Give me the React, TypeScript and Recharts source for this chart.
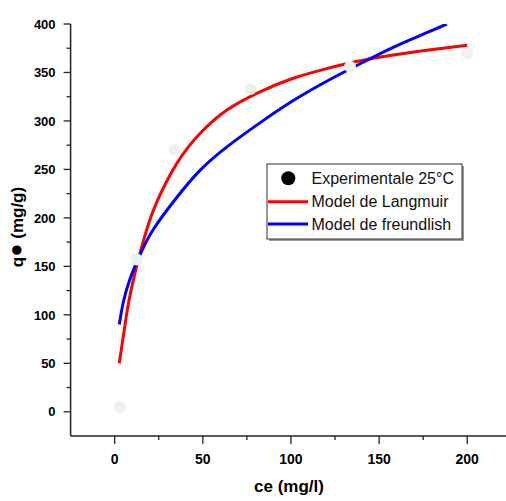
import { ComposedChart, Line, Scatter, XAxis, YAxis } from "recharts"

const ceExp = [3, 12.5, 34, 77, 133.5, 200]
const qeExp = [5, 157, 270, 333, 356, 370]

const langmuirCe = [2.6, 6.8, 9.6, 13.4, 18.2, 23.8, 35.2, 48.4, 63.5, 82.4, 101.3, 120.3, 139.2, 158, 177, 200]
const langmuirQe = [50, 101, 128, 157, 188, 216, 256, 287, 311, 330, 344, 354, 362, 368, 373, 378]

const freundCe = [2.6, 4.9, 8.7, 14.4, 21.9, 35.2, 48.4, 63.5, 82.4, 101.3, 120.3, 139.2, 158, 177, 188.4]
const freundQe = [90, 113, 137, 162, 188, 221, 249, 273, 298, 321, 341, 359, 376, 391, 400]

const xTicks = [-25, 0, 25, 50, 75, 100, 125, 150, 175, 200, 225]
const yTicks = [-25, 0, 25, 50, 75, 100, 125, 150, 175, 200, 225, 250, 275, 300, 325, 350, 375, 400]

const expData = ceExp.map((ce, i) => ({ ce, qe: qeExp[i] }))
const langmuirData = langmuirCe.map((ce, i) => ({ ce, qe: langmuirQe[i] }))
const freundData = freundCe.map((ce, i) => ({ ce, qe: freundQe[i] }))

const tickFont = "'Liberation Sans', Arial, sans-serif"

const XTick = (props: any) => {
    const { x, y, payload } = props
    const v = payload.value
    if (v < 0) return null
    const major = v % 50 === 0
    return (
        <g>
            <line x1={x} x2={x} y1={y} y2={y + (major ? 8 : 4)} stroke="#222" strokeWidth={1.3} />
            {major && v <= 200 && (
                <text x={x} y={y + 27.5} textAnchor="middle" fontSize={14} fontWeight="bold" fontFamily={tickFont} fill="#000">
                    {v}
                </text>
            )}
        </g>
    )
}

const YTick = (props: any) => {
    const { x, y, payload } = props
    const v = payload.value
    if (v < 0) return null
    const major = v % 50 === 0
    return (
        <g>
            <line x1={x} x2={x - (major ? 7 : 4)} y1={y} y2={y} stroke="#222" strokeWidth={1.3} />
            {major && (
                <text x={x - 15} y={y} dy="0.36em" textAnchor="end" fontSize={13} fontWeight="bold" fontFamily={tickFont} fill="#000">
                    {v}
                </text>
            )}
        </g>
    )
}

const Dot = (props: any) => <circle cx={props.cx} cy={props.cy} r={6} fill="#eef0ee" />

export default function App() {
    return (
        <div style={{ position: "absolute", left: 0, top: 0, width: 506, height: 501, overflow: "hidden", background: "#fff" }}>
            <ComposedChart width={520} height={501} margin={{ top: 24, right: 8.7, left: 0, bottom: 0 }}>
                <XAxis
                    type="number"
                    dataKey="ce"
                    domain={[-25, 225]}
                    ticks={xTicks}
                    allowDataOverflow
                    height={65}
                    tickSize={0}
                    tickMargin={0}
                    tickLine={false}
                    axisLine={{ stroke: "#222", strokeWidth: 1.5 }}
                    tick={<XTick />}
                    interval={0}
                />
                <YAxis
                    type="number"
                    dataKey="qe"
                    domain={[-25, 400]}
                    ticks={yTicks}
                    allowDataOverflow
                    width={70.6}
                    tickSize={0}
                    tickMargin={0}
                    tickLine={false}
                    axisLine={{ stroke: "#222", strokeWidth: 1.5 }}
                    tick={<YTick />}
                    interval={0}
                />
                <Scatter data={expData} dataKey="qe" shape={<Dot />} isAnimationActive={false} />
                <Line data={langmuirData} dataKey="qe" type="natural" stroke="#ff0000" strokeWidth={3} dot={false} isAnimationActive={false} />
                <Line data={freundData} dataKey="qe" type="natural" stroke="#0000ff" strokeWidth={3} dot={false} isAnimationActive={false} />
            </ComposedChart>
            <svg width={506} height={501} style={{ position: "absolute", left: 0, top: 0, pointerEvents: "none" }}>
                <text x={289} y={492} textAnchor="middle" fontSize={17} fontWeight="bold" fontFamily={tickFont} fill="#000">
                    ce (mg/l)
                </text>
                <text x={23} y={227} textAnchor="middle" fontSize={17} fontWeight="bold" fontFamily={tickFont} fill="#000" transform="rotate(-90 23 227)">
                    q<tspan fontSize={22}>●</tspan> (mg/g)
                </text>
                <rect x={269} y={166} width={195} height={75} fill="#999" />
                <rect x={267} y={164} width={195} height={75} fill="#fff" stroke="#333" strokeWidth={1} />
                <circle cx={288.3} cy={178.3} r={7} fill="#000" />
                <line x1={268} x2={308} y1={201.7} y2={201.7} stroke="#ff0000" strokeWidth={3} />
                <line x1={268} x2={308} y1={224} y2={224} stroke="#0000ff" strokeWidth={3} />
                <g fontSize={16} fontFamily={tickFont} fill="#111">
                    <text x={311.5} y={178.3} dy="0.36em">Experimentale 25°C</text>
                    <text x={311.5} y={201.7} dy="0.36em">Model de Langmuir</text>
                    <text x={311.5} y={224} dy="0.36em">Model de freundlish</text>
                </g>
            </svg>
        </div>
    )
}
